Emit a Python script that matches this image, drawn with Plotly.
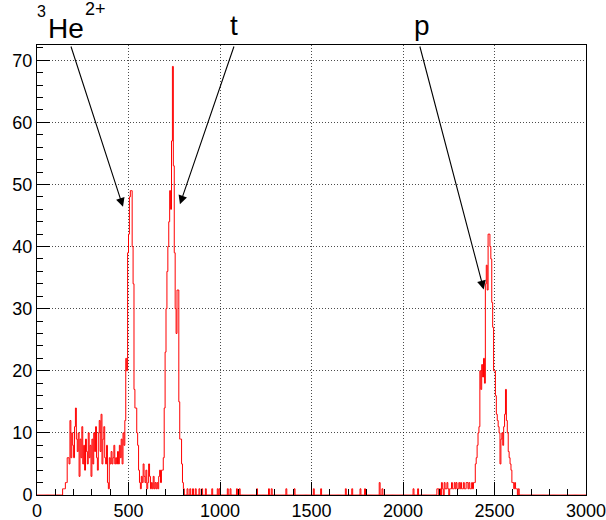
import numpy as np
import plotly.graph_objects as go

# ---------------- data (bin width 5, counts) ----------------
bin_width = 5
x_min, x_max = 0, 3000

noise_start = 140
noise_counts = [1, 1, 1, 2, 2, 6, 6, 5, 12, 6, 10, 8, 6, 11, 14, 9, 7, 10, 3, 9,
                6, 11, 5, 8, 4, 9, 7, 5, 10, 6, 8, 3, 9, 5, 10, 7, 11, 6, 4, 10,
                12, 7, 13, 5, 9, 11, 6, 5, 8, 2, 1, 6, 5, 7, 5, 6, 8, 5, 6, 5,
                7, 5, 8, 6, 9, 5, 10, 8, 12]

he_start = 485
he_counts = [22, 20, 39, 42, 48, 49, 49, 40, 34, 17, 14, 14, 10, 8, 4, 2]

valley_start = 565
valley_counts = [1, 3, 2, 5, 3, 2, 4, 1, 2, 5, 3, 1, 2, 1, 3, 1, 2, 1, 2, 1,
                 3, 4, 2, 4, 4]

t_start = 690
t_counts = [6, 14, 23, 30, 36, 40, 44, 49, 46, 57, 69, 53, 39, 30, 26, 33, 33,
            15, 9, 9, 5, 2, 1]

sparse_x = [820, 835, 850, 865, 885, 900, 920, 955, 985, 995, 1040, 1055, 1090,
            1105, 1200, 1265, 1280, 1360, 1405, 1510, 1550, 1685, 1720, 1765,
            1790, 1870, 1885, 2055, 2080]
sparse_counts = [1, 1, 1, 1, 1, 1, 1, 1, 1, 1, 1, 1, 1, 1, 1, 1, 1, 1, 1, 1,
                 1, 1, 1, 1, 1, 2, 1, 1, 1]

p_base_start = 2185
p_base_counts = [1, 1, 0, 1, 0, 2, 1, 0, 2, 1, 1, 2, 1, 0, 1, 1, 2, 1, 1, 2,
                 1, 2, 1, 1, 2, 1, 2, 1, 1, 2, 1, 1, 2, 2, 1, 2, 1, 1, 2, 1, 2]

p_start = 2390
p_counts = [2, 5, 6, 8, 10, 11, 20, 17, 21, 19, 22, 18, 34, 37, 33, 42, 42, 40,
            38, 31, 27, 20, 20, 16, 13, 12, 11, 10, 5, 9, 10, 8, 11, 13, 17, 12,
            10, 7, 6, 5, 4, 2, 2, 1, 2, 1, 1, 0, 1]

# label pieces: "³He²⁺", "t", "p"
label_texts = ["3", "He", "2+", "t", "p"]
label_sizes = [16, 28, 18, 28, 28]
label_x = [0.0078, 0.0523, 0.1071, 0.3597, 0.7007]
label_y = [1.0751, 1.0364, 1.0804, 1.0438, 1.0438]

arrow_tip_x = [470, 781, 2441]
arrow_tip_y = [46.4, 46.8, 33.1]
arrow_tail_x = [183, 1079, 2090]

x_ticks = [0, 500, 1000, 1500, 2000, 2500, 3000]
y_ticks = [0, 10, 20, 30, 40, 50, 60, 70]

# ---------------- build histogram ----------------
edges = np.arange(x_min, x_max + bin_width, bin_width)
counts = np.zeros(len(edges) - 1)


def put(start, vals):
    i0 = (start - x_min) // bin_width
    counts[i0:i0 + len(vals)] = vals


put(noise_start, noise_counts)
put(he_start, he_counts)
put(valley_start, valley_counts)
put(t_start, t_counts)
for xs, c in zip(sparse_x, sparse_counts):
    put(xs, [c])
put(p_base_start, p_base_counts)
put(p_start, p_counts)

y_top = 1.05 * counts.max()

xs_plot = list(edges[:-1]) + [edges[-1]]
ys_plot = list(counts) + [counts[-1]]

fig = go.Figure()
fig.add_trace(go.Scatter(
    x=xs_plot, y=ys_plot, mode="lines", line_shape="hv",
    line=dict(color="#ff0000", width=1), showlegend=False, hoverinfo="skip"))

axis_common = dict(
    showline=True, linecolor="black", linewidth=1, mirror=True,
    ticks="inside", tickcolor="black", ticklen=13, tickwidth=1,
    showgrid=True, gridcolor="rgba(0,0,0,0.7)", griddash="1px,2px", gridwidth=1,
    zeroline=False, automargin=False, ticklabeloverflow="allow",
    tickfont=dict(family="Liberation Sans, Arial", size=18, color="black"),
)

fig.update_xaxes(range=[x_min, x_max], tickvals=x_ticks, ticklabelstandoff=-1,
                 minor=dict(ticks="inside", ticklen=6, dtick=100, tick0=0,
                            tickcolor="black", showgrid=False),
                 **axis_common)
fig.update_yaxes(range=[0, y_top], tickvals=y_ticks,
                 minor=dict(ticks="inside", ticklen=6, dtick=2, tick0=0,
                            tickcolor="black", showgrid=False),
                 **axis_common)

annotations = []
for tx, ty, ax in zip(arrow_tip_x, arrow_tip_y, arrow_tail_x):
    annotations.append(dict(
        x=tx, y=ty, ax=ax, ay=y_top, xref="x", yref="y", axref="x", ayref="y",
        text="", showarrow=True, arrowhead=2, arrowsize=1.6, arrowwidth=1.1,
        arrowcolor="black", standoff=0, startstandoff=0))

for txt, fs, px, py in zip(label_texts, label_sizes, label_x, label_y):
    annotations.append(dict(
        x=px, y=py, xref="paper", yref="paper", text=txt, showarrow=False,
        xanchor="center", yanchor="middle", borderpad=0,
        font=dict(family="Liberation Sans, Arial", size=fs, color="black")))

fig.update_layout(
    width=606, height=520,
    margin=dict(l=37, r=20, t=45, b=25),
    paper_bgcolor="white", plot_bgcolor="white",
    annotations=annotations,
)

# remove the default 8 px page margin so the figure fills the window exactly
fig.write_html("out.html", config=dict(displayModeBar=False),
               post_script="document.body.style.margin='0px';")
